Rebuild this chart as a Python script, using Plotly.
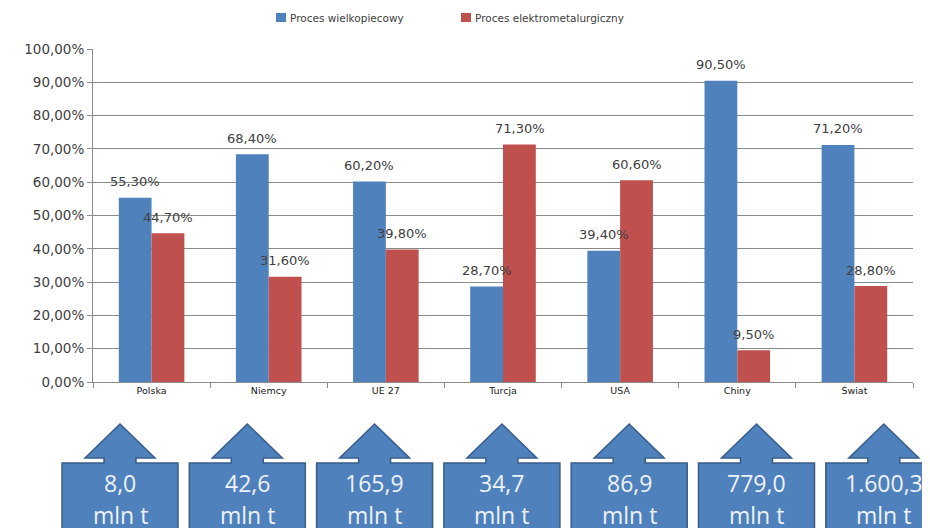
import plotly.graph_objects as go

categories = ["Polska", "Niemcy", "UE 27", "Turcja", "USA", "Chiny", "Świat"]
blast_furnace = [0.553, 0.684, 0.602, 0.287, 0.394, 0.905, 0.712]
electric_arc = [0.447, 0.316, 0.398, 0.713, 0.606, 0.095, 0.288]
production_mln_t = [8.0, 42.6, 165.9, 34.7, 86.9, 779.0, 1600.3]
series_names = ["Proces wielkopiecowy", "Proces elektrometalurgiczny"]

BLUE = "#4F81BD"
RED = "#C0504D"
TXT = "#404040"
FONT = "DejaVu Sans"
BOXFONT = "Open Sans"

# the page has an 8px body margin: work in window pixels, convert to figure pixels
OFF = 8
W, H = 930, 528
PLOT_L, PLOT_R, PLOT_T, PLOT_B = 93, 913, 49, 382  # in window pixels
ML = PLOT_L - OFF
MT = PLOT_T - OFF
MR = W - (PLOT_R - OFF)
MB = H - (PLOT_B - OFF)
PW = PLOT_R - PLOT_L
PH = PLOT_B - PLOT_T


def px2paper_x(px):
    return (px - PLOT_L) / PW


def px2paper_y(py):
    return (PLOT_B - py) / PH


def fmt_pl(v):
    s = f"{v:,.1f}"
    return s.replace(",", "X").replace(".", ",").replace("X", ".")


fig = go.Figure()
fig.add_trace(go.Bar(x=categories, y=blast_furnace, name=series_names[0],
                     marker=dict(color=BLUE, line=dict(width=0))))
fig.add_trace(go.Bar(x=categories, y=electric_arc, name=series_names[1],
                     marker=dict(color=RED, line=dict(width=0))))

annotations = []
shapes = []

# data labels
for vals, shift in ((blast_furnace, -16.5), (electric_arc, 16.5)):
    for c, v in zip(categories, vals):
        annotations.append(dict(
            x=c, y=v, xref="x", yref="y", xshift=shift, yshift=16,
            text=f"{v*100:.2f}%".replace(".", ","), showarrow=False,
            yanchor="middle", xanchor="center",
            font=dict(family=FONT, size=13, color=TXT)))

# manual legend
for name, col, lx in ((series_names[0], BLUE, 276), (series_names[1], RED, 461)):
    shapes.append(dict(type="rect", xref="paper", yref="paper",
                       x0=px2paper_x(lx), x1=px2paper_x(lx + 10),
                       y0=px2paper_y(22), y1=px2paper_y(13),
                       fillcolor=col, line=dict(width=0)))
    annotations.append(dict(x=px2paper_x(lx + 12), y=px2paper_y(18), xref="paper", yref="paper",
                            text=name, showarrow=False, xanchor="left", yanchor="middle",
                            font=dict(family=FONT, size=10.5, color=TXT)))

# up-arrow callouts
for i, val in enumerate(production_mln_t):
    cx = 120 + 127.3 * i
    left, right = cx - 58, cx + 58
    top, bottom = 463, 560
    stem, head = 16, 35
    base_y, apex_y = 458, 424
    pts = [(left, bottom), (left, top), (cx - stem, top), (cx - stem, base_y),
           (cx - head, base_y), (cx, apex_y), (cx + head, base_y),
           (cx + stem, base_y), (cx + stem, top), (right, top), (right, bottom)]
    path = "M " + " L ".join(f"{px2paper_x(x):.5f},{px2paper_y(y):.5f}" for x, y in pts) + " Z"
    shapes.append(dict(type="path", xref="paper", yref="paper", path=path,
                       fillcolor=BLUE, line=dict(color="#385D8A", width=1.5),
                       layer="above"))
    annotations.append(dict(x=px2paper_x(cx), y=px2paper_y(483), xref="paper", yref="paper",
                            text=fmt_pl(val), showarrow=False, xanchor="center", yanchor="middle",
                            font=dict(family=BOXFONT, size=23, color="#EEF2FA")))
    annotations.append(dict(x=px2paper_x(cx), y=px2paper_y(515), xref="paper", yref="paper",
                            text="mln t", showarrow=False, xanchor="center", yanchor="middle",
                            font=dict(family=BOXFONT, size=23, color="#EEF2FA")))

fig.update_layout(
    width=W, height=H,
    margin=dict(l=ML, r=MR, t=MT, b=MB, autoexpand=False),
    paper_bgcolor="white", plot_bgcolor="white",
    separators=",.",
    barmode="group", bargap=0.44, bargroupgap=0,
    font=dict(family=FONT, color=TXT),
    showlegend=False,
    annotations=annotations,
    shapes=shapes,
)
fig.update_yaxes(range=[0, 1], dtick=0.1, tickformat=".2%",
                 showgrid=True, gridcolor="#8A8A8A", gridwidth=1,
                 showline=True, linecolor="#8A8A8A", linewidth=1,
                 ticks="outside", ticklen=5, tickcolor="#8A8A8A",
                 tickfont=dict(family=FONT, size=13.5, color=TXT),
                 zeroline=False, fixedrange=True, automargin=False)
fig.update_xaxes(showline=True, linecolor="#8A8A8A", linewidth=1,
                 ticks="outside", ticklen=5, tickcolor="#8A8A8A", tickson="boundaries",
                 tickfont=dict(family=FONT, size=9.5, color="#202020"),
                 showgrid=False, fixedrange=True, automargin=False)

fig.write_html("out.html")
